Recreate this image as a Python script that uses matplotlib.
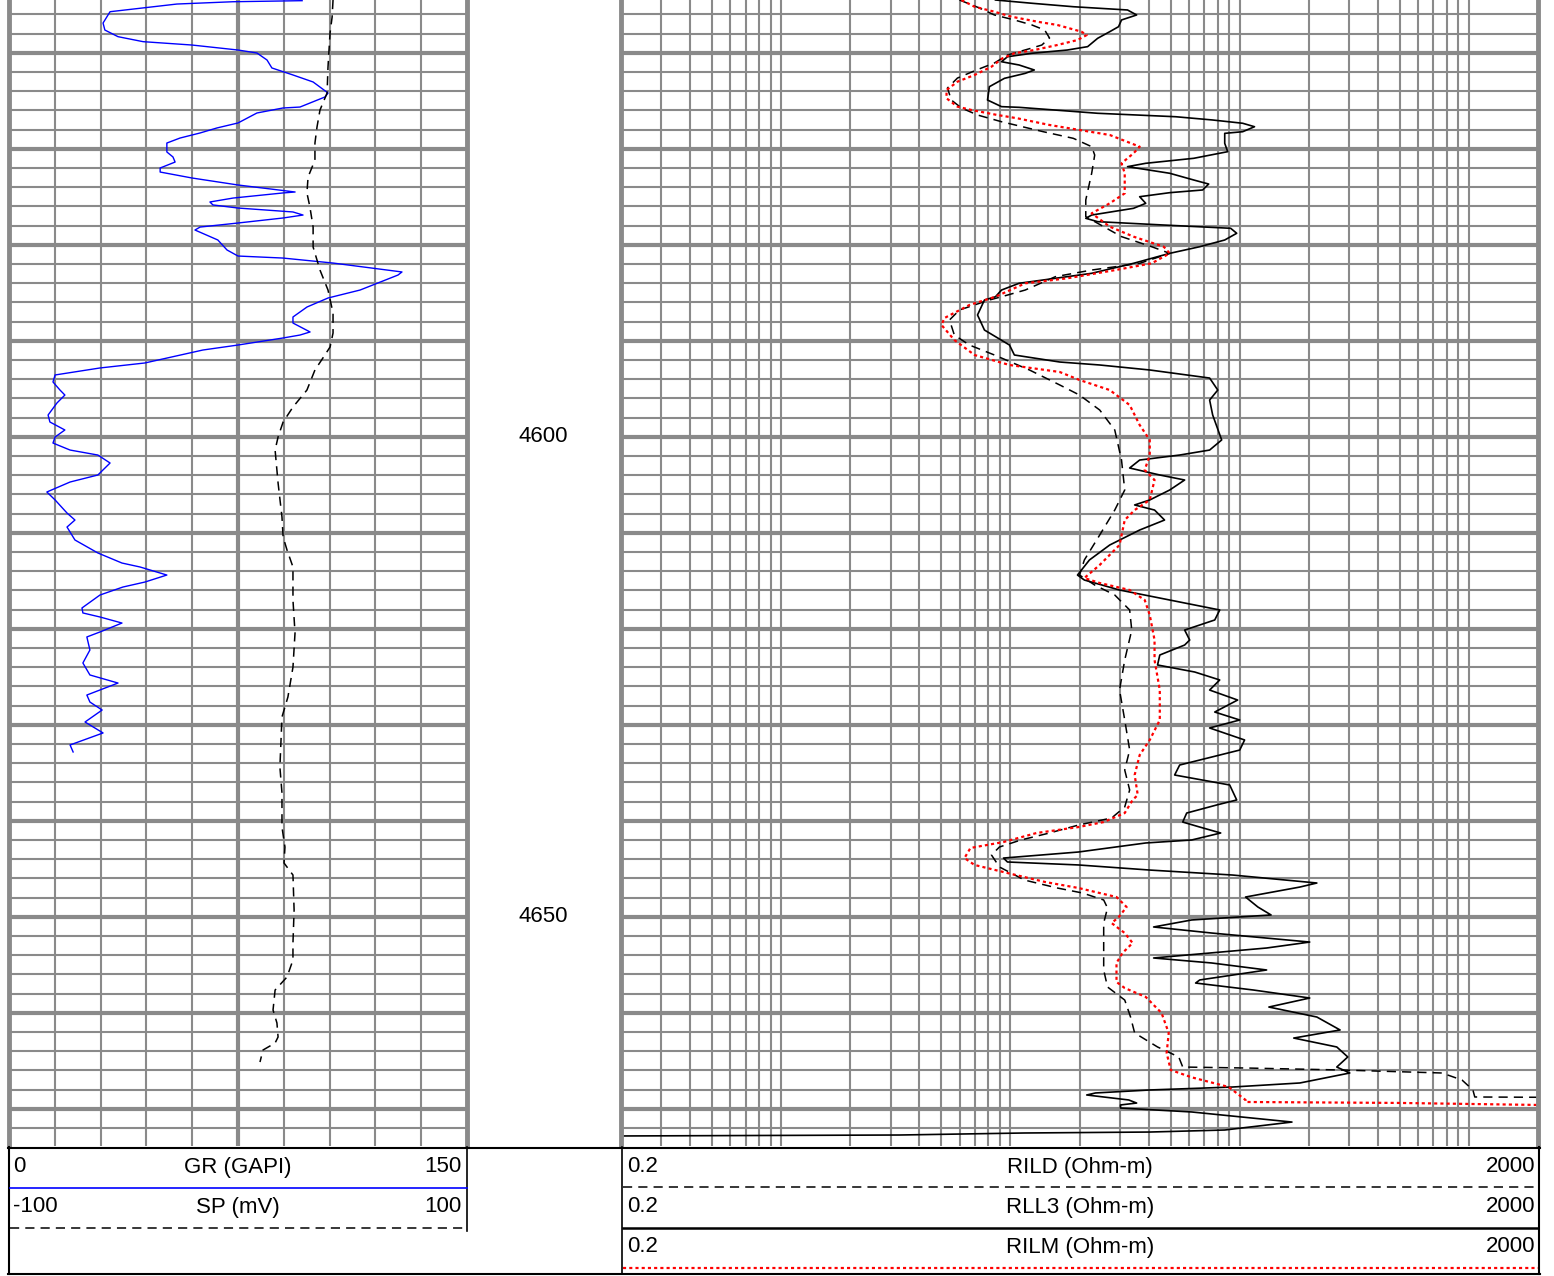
import numpy as np
import matplotlib.pyplot as plt
from matplotlib.ticker import MultipleLocator, FixedLocator, LogLocator
from matplotlib.transforms import blended_transform_factory

plt.rcParams['font.family'] = ['Liberation Sans', 'DejaVu Sans']

# depth (ft), value pairs
gr = np.array([
    (4554.57, 96.0), (4554.68, 73.4), (4554.92, 55.0), (4555.72, 33.1), (4556.90, 30.8),
    (4557.63, 31.4), (4558.32, 35.7), (4558.84, 43.9), (4559.19, 59.9), (4559.71, 75.0),
    (4560.02, 81.2), (4560.75, 84.5), (4561.58, 86.1), (4562.31, 93.0), (4563.04, 99.6),
    (4564.19, 104.5), (4564.60, 103.5), (4565.65, 95.3), (4565.75, 89.7), (4566.27, 81.2),
    (4567.31, 75.0), (4567.83, 68.1), (4568.35, 62.6), (4568.88, 56.0), (4569.40, 51.7),
    (4570.33, 51.7), (4570.85, 53.7), (4571.38, 54.4), (4572.00, 49.5), (4572.42, 49.5),
    (4573.04, 59.9), (4573.77, 75.0), (4574.50, 93.7), (4574.60, 89.7), (4575.13, 73.4),
    (4575.54, 65.8), (4575.85, 66.8), (4576.17, 75.0), (4576.58, 93.0), (4576.90, 96.3),
    (4577.21, 89.7), (4577.73, 75.0), (4578.15, 62.6), (4578.46, 60.9), (4579.50, 68.4),
    (4580.54, 71.4), (4581.17, 75.0), (4581.38, 89.7), (4581.90, 106.1), (4582.83, 128.7),
    (4583.15, 127.4), (4584.71, 115.0), (4585.54, 104.5), (4586.48, 97.6), (4587.52, 93.0),
    (4588.15, 93.0), (4589.08, 98.6), (4589.40, 95.3), (4589.71, 89.7), (4590.44, 75.0),
    (4590.96, 63.5), (4592.31, 44.5), (4592.83, 29.8), (4593.56, 15.1), (4594.29, 14.4),
    (4595.13, 16.7), (4595.65, 18.3), (4596.48, 15.7), (4597.73, 12.8), (4598.46, 13.4),
    (4599.29, 18.3), (4600.02, 15.1), (4600.65, 14.4), (4601.38, 20.0), (4601.90, 29.1),
    (4602.73, 33.1), (4603.98, 29.1), (4604.71, 20.0), (4605.75, 12.4), (4606.58, 15.1),
    (4607.94, 19.0), (4608.67, 21.6), (4609.40, 19.0), (4610.75, 21.6), (4612.10, 29.1),
    (4613.15, 37.0), (4613.56, 42.9), (4614.40, 51.7), (4615.13, 44.5), (4615.65, 37.3),
    (4616.48, 29.8), (4617.83, 23.9), (4618.35, 24.2), (4618.77, 29.8), (4619.40, 37.0),
    (4620.33, 29.8), (4620.85, 25.5), (4622.21, 26.5), (4623.56, 24.2), (4624.81, 26.5),
    (4625.65, 35.7), (4626.90, 25.5), (4627.63, 26.5), (4628.46, 30.5), (4629.71, 24.9),
    (4630.85, 30.8), (4632.10, 20.0), (4632.83, 21.0)])

sp = np.array([
    (4554.5, 41.5), (4556.27, 41.1), (4557.94, 40.2), (4561.48, 39.3), (4564.19, 38.9),
    (4565.96, 35.8), (4567.73, 34.5), (4569.40, 33.6), (4571.17, 33.6), (4572.94, 30.6),
    (4574.60, 30.1), (4576.06, 31.4), (4578.15, 32.8), (4580.23, 32.8), (4582.63, 35.8),
    (4584.71, 39.3), (4587.10, 41.5), (4589.19, 41.5), (4590.65, 40.2), (4592.00, 36.5),
    (4593.04, 33.6), (4595.13, 30.1), (4596.90, 24.0), (4598.46, 19.7), (4600.02, 17.5),
    (4601.38, 16.2), (4604.81, 17.5), (4608.35, 19.2), (4610.44, 19.7), (4611.79, 21.4),
    (4613.56, 24.0), (4617.00, 24.0), (4620.44, 24.9), (4624.00, 24.0), (4627.10, 21.8),
    (4629.19, 19.2), (4634.40, 18.3), (4637.10, 19.2), (4640.65, 19.2), (4642.73, 20.5),
    (4644.40, 20.1), (4645.65, 24.0), (4649.29, 24.5), (4652.73, 24.0), (4654.50, 24.0),
    (4656.27, 21.4), (4657.63, 16.2), (4659.71, 15.3), (4661.06, 17.0), (4662.52, 17.5),
    (4663.15, 16.2), (4663.88, 10.9), (4665.13, 9.6)])

rll3 = np.array([
    (4554.5, 8.6), (4554.84, 12.4), (4555.20, 18.8), (4555.54, 32.4), (4556.06, 35.5),
    (4556.58, 30.5), (4557.28, 29.6), (4557.80, 27.1), (4558.49, 24.0), (4559.01, 22.6),
    (4559.36, 21.7), (4559.71, 17.7), (4560.05, 12.4), (4560.41, 9.7), (4560.93, 9.14),
    (4561.27, 10.9), (4561.79, 12.7), (4562.14, 11.6), (4562.66, 9.41), (4563.53, 8.09),
    (4564.92, 7.94), (4565.61, 9.14), (4565.68, 10.9), (4566.30, 24.0), (4566.66, 52.6),
    (4567.00, 76.2), (4567.34, 103), (4567.70, 116), (4568.22, 103), (4568.39, 86),
    (4569.43, 86), (4570.30, 88.6), (4570.99, 63.0), (4571.51, 38.9), (4571.86, 32.4),
    (4572.55, 49.5), (4573.25, 63.0), (4573.67, 73.2), (4574.29, 68.9), (4574.57, 49.5),
    (4574.99, 36.6), (4575.68, 38.9), (4576.20, 34.4), (4576.90, 22.6), (4577.24, 21.3),
    (4577.59, 24.0), (4577.94, 46.6), (4578.28, 91.3), (4578.80, 97.0), (4579.50, 86),
    (4580.20, 66.9), (4580.89, 49.5), (4581.93, 34.4), (4582.97, 22.6), (4583.49, 15.7),
    (4584.01, 10.9), (4584.71, 9.14), (4585.41, 8.6), (4585.75, 7.70), (4587.31, 7.18),
    (4588.88, 7.70), (4590.44, 9.90), (4591.48, 10.4), (4592.21, 16.4), (4592.52, 24.5),
    (4593.04, 40.5), (4593.88, 73.9), (4595.13, 80.2), (4596.17, 73.9), (4597.73, 76.2),
    (4600.33, 83.4), (4601.38, 73.9), (4601.90, 54.7), (4602.42, 36.6), (4603.25, 33.1),
    (4603.98, 44.8), (4604.50, 57.5), (4605.54, 49.5), (4606.58, 40.5), (4607.10, 34.8),
    (4607.63, 42.5), (4608.67, 47.0), (4609.71, 36.6), (4611.27, 27.1), (4612.83, 22.1),
    (4614.40, 19.6), (4614.92, 21.0), (4615.96, 29.9), (4617.00, 49.5), (4618.04, 81.8),
    (4619.08, 77.8), (4620.13, 57.5), (4621.17, 60.5), (4621.69, 57.5), (4622.73, 44.8),
    (4623.77, 43.8), (4624.50, 63.6), (4625.33, 81.8), (4626.38, 73.9), (4627.42, 97.9),
    (4628.67, 77.8), (4629.50, 100), (4630.33, 73.9), (4631.58, 105), (4632.63, 100),
    (4634.19, 54.7), (4635.23, 52.0), (4636.27, 90.4), (4637.83, 97.0), (4638.35, 79.4),
    (4639.19, 58.7), (4640.13, 56.4), (4640.65, 66.9), (4641.27, 82.6), (4642.00, 61.7),
    (4642.31, 38.9), (4643.25, 19.8), (4643.88, 9.32), (4644.29, 9.70), (4644.60, 19.8),
    (4645.13, 40.5), (4645.65, 93.2), (4646.48, 217), (4646.90, 183), (4647.94, 106),
    (4648.98, 120), (4649.81, 137), (4650.33, 61.7), (4651.06, 42.1), (4651.69, 75.4),
    (4652.63, 202), (4653.25, 131), (4654.29, 42.1), (4654.81, 75.4), (4655.54, 131),
    (4656.58, 66.9), (4656.90, 64.2), (4657.63, 115), (4658.46, 202), (4659.40, 134),
    (4660.44, 217), (4661.79, 274), (4662.63, 172), (4663.56, 265), (4664.60, 296),
    (4665.65, 265), (4666.27, 302), (4667.31, 183), (4667.73, 93.2), (4668.04, 40.5),
    (4668.35, 23.5), (4668.56, 21.5), (4669.08, 32.8), (4669.40, 35.5), (4669.60, 30.2),
    (4669.92, 30.2), (4670.33, 61.7), (4671.38, 169), (4672.21, 86), (4672.42, 40.5),
    (4672.52, 11.5), (4672.73, 3.28), (4672.83, 0.2)])

rild = np.array([
    (4554.5, 5.99), (4555.33, 7.32), (4556.06, 8.51), (4556.58, 10.4), (4557.10, 12.4),
    (4557.63, 14.1), (4558.46, 14.8), (4559.19, 13.7), (4559.50, 12.4), (4560.23, 9.70),
    (4561.06, 8.51), (4561.79, 7.11), (4562.63, 5.87), (4563.67, 5.31), (4564.92, 5.52),
    (4565.75, 6.11), (4566.48, 7.18), (4567.18, 9.14), (4568.22, 13.9), (4568.91, 18.8),
    (4569.78, 22.6), (4570.65, 23.3), (4572.55, 22.6), (4575.33, 21.3), (4577.07, 21.3),
    (4578.11, 25.5), (4579.15, 30.5), (4580.20, 41.3), (4580.89, 49.5), (4581.93, 36.6),
    (4582.63, 22.6), (4583.32, 15.7), (4584.71, 11.6), (4585.41, 9.14), (4585.75, 8.09),
    (4586.79, 5.99), (4587.83, 5.42), (4589.40, 5.69), (4590.44, 6.62), (4591.48, 8.51),
    (4593.04, 12.1), (4594.60, 16.4), (4595.65, 20.0), (4597.21, 24.5), (4599.29, 28.5),
    (4602.42, 30.5), (4605.54, 31.5), (4607.63, 28.5), (4610.23, 24.5), (4612.83, 21.0),
    (4614.40, 20.0), (4615.44, 23.3), (4616.48, 28.5), (4618.04, 33.1), (4620.13, 33.8),
    (4623.25, 31.5), (4626.38, 29.9), (4629.50, 31.5), (4632.63, 33.1), (4634.71, 31.5),
    (4636.79, 33.1), (4638.56, 31.5), (4639.71, 27.6), (4640.44, 19.8), (4641.27, 14.8),
    (4642.00, 11.1), (4642.73, 8.95), (4643.56, 8.26), (4644.81, 8.95), (4646.17, 11.5),
    (4647.00, 16.0), (4647.52, 20.6), (4648.25, 25.5), (4649.08, 26.5), (4650.65, 25.5),
    (4652.73, 25.5), (4655.54, 25.5), (4657.31, 26.5), (4658.67, 31.5), (4660.44, 33.4),
    (4662.10, 34.8), (4663.56, 43.8), (4664.60, 54.2), (4665.65, 56.4), (4665.75, 106),
    (4665.96, 279), (4666.27, 762), (4667.00, 932), (4668.04, 1040), (4668.77, 1060),
    (4668.80, 2000)])

rilm = np.array([
    (4554.5, 6.11), (4555.20, 6.97), (4555.72, 8.51), (4556.24, 10.1), (4556.76, 13.1),
    (4557.10, 16.0), (4557.80, 20.4), (4558.15, 21.5), (4558.67, 19.6), (4559.19, 16.0),
    (4559.71, 12.7), (4560.05, 10.4), (4560.57, 9.23), (4561.45, 8.26), (4562.31, 6.97),
    (4563.01, 5.87), (4563.88, 5.26), (4564.74, 5.26), (4565.61, 5.87), (4565.96, 6.76),
    (4566.48, 8.77), (4566.82, 10.7), (4567.52, 14.8), (4568.04, 20.0), (4568.56, 27.1),
    (4569.78, 36.6), (4570.47, 34.4), (4571.51, 30.5), (4572.55, 31.5), (4574.64, 31.5),
    (4575.68, 27.1), (4576.72, 22.6), (4578.11, 27.1), (4579.15, 34.4), (4580.20, 46.6),
    (4580.89, 49.5), (4581.93, 41.3), (4582.63, 28.7), (4583.49, 17.7), (4584.01, 11.6),
    (4585.41, 8.6), (4586.27, 6.62), (4587.63, 5.15), (4588.35, 5.0), (4589.92, 5.69),
    (4591.48, 6.97), (4592.52, 9.90), (4593.25, 16.4), (4594.08, 20.0), (4595.13, 27.1),
    (4596.69, 33.1), (4598.77, 36.6), (4600.33, 40.5), (4601.90, 40.5), (4603.46, 38.5),
    (4604.50, 42.5), (4606.58, 40.5), (4607.63, 34.8), (4608.67, 31.5), (4611.27, 29.9),
    (4613.35, 24.5), (4614.71, 21.0), (4615.23, 24.5), (4615.96, 33.1), (4617.00, 38.5),
    (4618.56, 40.5), (4621.17, 42.5), (4623.25, 42.5), (4626.38, 44.8), (4629.50, 44.8),
    (4631.58, 40.5), (4633.15, 36.6), (4635.23, 34.8), (4637.31, 35.9), (4637.83, 34.1),
    (4639.19, 31.5), (4640.13, 25.5), (4640.65, 19.8), (4641.27, 13.0), (4642.21, 9.32),
    (4642.83, 6.69), (4643.88, 6.30), (4644.60, 6.97), (4645.44, 9.70), (4646.38, 14.2),
    (4647.00, 19.8), (4647.94, 29.0), (4648.98, 32.1), (4650.05, 29.6), (4650.65, 27.6),
    (4651.69, 31.5), (4652.73, 34.1), (4653.77, 30.8), (4654.81, 29.0), (4656.79, 29.0),
    (4657.42, 31.5), (4658.35, 38.9), (4660.02, 45.6), (4662.10, 49.0), (4664.19, 48.0),
    (4665.96, 50.0), (4666.72, 61.7), (4667.73, 89.5), (4669.08, 106), (4669.29, 106),
    (4669.39, 500), (4669.60, 2000)])

depth_labels = [4600, 4650]
top, base = 4554.5, 4673.875

W, H = 1554, 1276
fig = plt.figure(figsize=(W / 100, H / 100), dpi=100)


def box(x0, x1, y0, y1):
    return [x0 / W, 1 - y1 / H, (x1 - x0) / W, (y1 - y0) / H]


grid_c = '#8a8a8a'
dash = (0, (6, 4))
dot = (0, (1.4, 1.4))

# ---- track 1: GR / SP
ax1 = fig.add_axes(box(9, 467, 0, 1146))
ax1.set_xlim(0, 150)
ax1.set_ylim(base, top)
ax1.xaxis.set_major_locator(FixedLocator([75]))
ax1.xaxis.set_minor_locator(MultipleLocator(15))
ax1.yaxis.set_major_locator(MultipleLocator(10))
ax1.yaxis.set_minor_locator(MultipleLocator(2))
ax1.grid(which='major', color=grid_c, lw=3)
ax1.grid(which='minor', color=grid_c, lw=1.5)
ax1.tick_params(which='both', length=0, labelbottom=False, labelleft=False)
for s in ['left', 'right']:
    ax1.spines[s].set_color(grid_c)
    ax1.spines[s].set_linewidth(3.5)
ax1.spines['top'].set_visible(False)
ax1.spines['bottom'].set_visible(False)
ax1.plot(gr[:, 1], gr[:, 0], color='#0000ff', lw=1.0)

ax1s = ax1.twiny()
ax1s.set_xlim(-100, 100)
ax1s.set_ylim(base, top)
ax1s.axis('off')
ax1s.plot(sp[:, 1], sp[:, 0], color='black', lw=1.1, ls=dash)

# ---- track 2: resistivity (log)
ax2 = fig.add_axes(box(621, 1538, 0, 1146))
ax2.set_xscale('log')
ax2.set_xlim(0.2, 2000)
ax2.set_ylim(base, top)
ax2.xaxis.set_major_locator(LogLocator(base=10, numticks=20))
ax2.xaxis.set_minor_locator(LogLocator(base=10, subs=np.arange(2, 10), numticks=100))
ax2.yaxis.set_major_locator(MultipleLocator(10))
ax2.yaxis.set_minor_locator(MultipleLocator(2))
ax2.grid(which='major', axis='y', color=grid_c, lw=3)
ax2.grid(which='minor', axis='y', color=grid_c, lw=1.5)
ax2.grid(which='both', axis='x', color=grid_c, lw=1.5)
ax2.tick_params(which='both', length=0, labelbottom=False, labelleft=False)
for s in ['left', 'right']:
    ax2.spines[s].set_color(grid_c)
    ax2.spines[s].set_linewidth(3.5)
ax2.spines['top'].set_visible(False)
ax2.spines['bottom'].set_visible(False)
ax2.plot(rll3[:, 1], rll3[:, 0], color='black', lw=1.2)
ax2.plot(rild[:, 1], rild[:, 0], color='black', lw=1.1, ls=dash)
ax2.plot(rilm[:, 1], rilm[:, 0], color='red', lw=1.6, ls=dot)

# ---- depth labels
tr = blended_transform_factory(fig.transFigure, ax1.transData)
for d in depth_labels:
    fig.text(543 / W, d, str(d), transform=tr, ha='center', va='center', fontsize=16)

# ---- header
hx = fig.add_axes(box(0, W, 1146, H))
hx.set_xlim(0, W)
hx.set_ylim(H, 1146)
hx.axis('off')


def hline(y, x0, x1, **kw):
    hx.plot([x0, x1], [y, y], clip_on=False, **kw)


def vline(x, y0, y1, **kw):
    hx.plot([x, x], [y0, y1], clip_on=False, **kw)


hline(1147.5, 8, 1540, color='black', lw=1.5)
hline(1273.5, 8, 1540, color='black', lw=1.5)
vline(9, 1147, 1274, color='black', lw=1.5)
vline(467, 1147, 1231, color='black', lw=1.2)
vline(622, 1147, 1274, color='black', lw=1.2)
vline(1539, 1147, 1274, color='black', lw=1.5)

hline(1188, 10, 467, color='#0000ff', lw=1.2)
hline(1228, 10, 463, color='black', lw=1.1, ls=dash)
hline(1187, 623, 1537, color='black', lw=1.1, ls=dash)
hline(1228, 623, 1538, color='black', lw=1.8)
hline(1268, 623, 1538, color='red', lw=1.6, ls=dot)

rows_left = [('0', 'GR (GAPI)', '150', 1167), ('-100', 'SP (mV)', '100', 1207)]
for lo, name, hi, y in rows_left:
    hx.text(13, y, lo, ha='left', va='center', fontsize=16)
    hx.text(238, y, name, ha='center', va='center', fontsize=16)
    hx.text(462, y, hi, ha='right', va='center', fontsize=16)

rows_right = [('0.2', 'RILD (Ohm-m)', '2000', 1167),
              ('0.2', 'RLL3 (Ohm-m)', '2000', 1207),
              ('0.2', 'RILM (Ohm-m)', '2000', 1247)]
for lo, name, hi, y in rows_right:
    hx.text(627, y, lo, ha='left', va='center', fontsize=16)
    hx.text(1080, y, name, ha='center', va='center', fontsize=16)
    hx.text(1535, y, hi, ha='right', va='center', fontsize=16)

fig.savefig('out.png', dpi=100)
